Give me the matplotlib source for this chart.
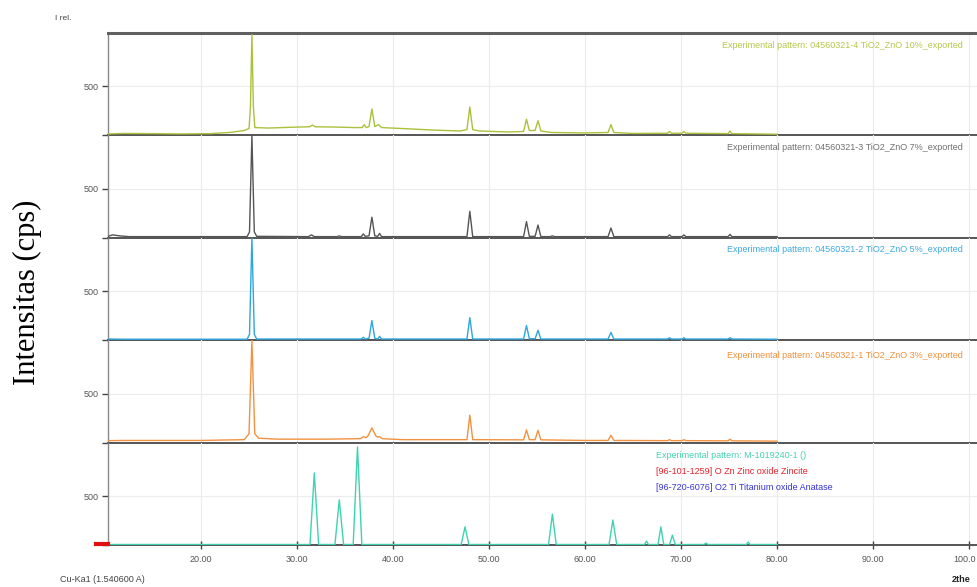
import matplotlib
matplotlib.use("Agg")
import matplotlib.pyplot as plt
import matplotlib.transforms as mtransforms

W, H = 977, 587

# ---------------- data (2theta, intensity vertices) ----------------
tt_10 = [10.3, 12, 15, 18, 21, 23, 24.5, 25.0, 25.15, 25.3, 25.45, 25.6, 27, 30, 31.3, 31.6, 31.9, 34, 36, 36.8, 37.0,
         37.2, 37.5, 37.8, 38.1, 38.5, 38.8, 41, 44, 47, 47.7, 48.0, 48.3, 49, 52, 53.6, 53.9, 54.2, 54.8, 55.1,
         55.4, 56.5, 60, 62.4, 62.7, 63.0, 65, 68.6, 68.8, 69.0, 70.1, 70.3, 70.5, 74.9, 75.1, 75.3, 80]
I_10 = [15, 20, 18, 15, 18, 30, 50, 70, 300, 1030, 300, 80, 75, 85, 88, 105, 88, 85, 80, 80, 110,
        80, 90, 270, 90, 110, 80, 70, 55, 45, 60, 290, 60, 45, 35, 40, 165, 50, 50, 150,
        45, 30, 25, 30, 110, 30, 20, 22, 40, 22, 22, 40, 22, 18, 45, 18, 12]

tt_7 = [10.3, 10.8, 11.5, 12.5, 24.8, 25.05, 25.3, 25.55, 25.8, 31.2, 31.5, 31.8, 34.2, 34.4, 34.6, 36.7, 36.9,
        37.1, 37.5, 37.8, 38.1, 38.4, 38.6, 38.8, 47.7, 48.0, 48.3, 53.6, 53.9, 54.2, 54.8, 55.1, 55.4, 56.4,
        56.6, 56.8, 62.4, 62.7, 63.0, 68.6, 68.8, 69.0, 70.1, 70.3, 70.5, 74.9, 75.1, 75.3, 80]
I_7 = [15, 30, 20, 12, 12, 60, 1045, 60, 15, 12, 30, 12, 12, 20, 12, 12, 40,
       15, 20, 210, 20, 15, 45, 12, 12, 270, 12, 12, 165, 15, 15, 130, 12, 12,
       20, 12, 12, 100, 12, 12, 30, 12, 12, 30, 12, 12, 35, 12, 12]

tt_5 = [10.3, 12, 24.8, 25.05, 25.3, 25.55, 25.8, 36.7, 36.9, 37.1, 37.5, 37.8, 38.1, 38.4, 38.6, 38.8, 47.7,
        48.0, 48.3, 53.6, 53.9, 54.2, 54.8, 55.1, 55.4, 62.4, 62.7, 63.0, 68.6, 68.8, 69.0, 70.1, 70.3, 70.5,
        74.9, 75.1, 75.3, 80]
I_5 = [12, 10, 10, 60, 1045, 60, 12, 12, 30, 12, 20, 200, 20, 12, 40, 12, 12,
       230, 12, 12, 150, 15, 15, 100, 12, 12, 80, 12, 12, 25, 12, 12, 25, 12,
       12, 25, 12, 10]

tt_3 = [10.3, 12, 20, 24.5, 25.0, 25.3, 25.6, 26.0, 28, 33, 36.6, 36.9, 37.2, 37.4, 37.8, 38.2, 38.4, 38.6, 38.9,
        41, 47.7, 48.0, 48.3, 53.6, 53.9, 54.2, 54.8, 55.1, 55.4, 60, 62.4, 62.7, 63.0, 68.6, 68.8, 69.0, 70.1,
        70.3, 70.5, 74.9, 75.1, 75.3, 80]
I_3 = [20, 22, 22, 30, 90, 1045, 90, 45, 35, 35, 40, 60, 50, 70, 150, 70, 55, 60, 40,
       30, 30, 280, 30, 28, 130, 30, 30, 125, 28, 22, 22, 75, 22, 20, 30, 20, 20,
       30, 20, 18, 35, 18, 15]

tt_ref = [10.3, 31.35, 31.8, 32.25, 33.95, 34.4, 34.85, 35.85, 36.3, 36.75, 47.1, 47.5, 47.9, 56.2, 56.6, 57.0,
          62.5, 62.9, 63.3, 66.2, 66.4, 66.6, 67.6, 67.9, 68.2, 68.8, 69.1, 69.4, 72.4, 72.6, 72.8, 76.8, 77.0,
          77.2, 80]
I_ref = [5, 5, 735, 5, 5, 460, 5, 5, 1000, 5, 5, 185, 5, 5, 315, 5, 5,
         255, 5, 5, 40, 5, 5, 185, 5, 5, 100, 5, 5, 20, 5, 5, 30,
         5, 5]

x_ticks = [20, 30, 40, 50, 60, 70, 80, 90, 100]
x_tick_labels = ["20.00", "30.00", "40.00", "50.00", "60.00", "70.00", "80.00", "90.00", "100.0"]

panel_labels = [
    ["Experimental pattern: 04560321-4 TiO2_ZnO 10%_exported"],
    ["Experimental pattern: 04560321-3 TiO2_ZnO 7%_exported"],
    ["Experimental pattern: 04560321-2 TiO2_ZnO 5%_exported"],
    ["Experimental pattern: 04560321-1 TiO2_ZnO 3%_exported"],
    ["Experimental pattern: M-1019240-1 ()",
     "[96-101-1259] O Zn Zinc oxide Zincite",
     "[96-720-6076] O2 Ti Titanium oxide Anatase"],
]

# ---------------- styling ----------------
series = [(tt_10, I_10), (tt_7, I_7), (tt_5, I_5), (tt_3, I_3), (tt_ref, I_ref)]
line_colors = ["#a9c23c", "#555555", "#2ea6de", "#f29240", "#3ed3b0"]
label_colors = [["#b4c84a"], ["#707070"], ["#3fa9e0"], ["#f0903c"],
                ["#45d2b0", "#e8202a", "#3434d8"]]

plt.rcParams['font.family'] = ['Liberation Sans', 'DejaVu Sans']

fig = plt.figure(figsize=(W / 100, H / 100), dpi=100)
fig.patch.set_facecolor("white")

top0 = 33.0
ph = 102.4
left_px = 108.0
xmin, xmax = 10.31, 100.83

axes = []
for i, ((xs, ys), col) in enumerate(zip(series, line_colors)):
    top = top0 + i * ph
    ax = fig.add_axes([left_px / W, 1 - (top + ph) / H, (W - left_px) / W, ph / H])
    ax.set_xlim(xmin, xmax)
    ax.set_ylim(0, 1045)
    for xv in x_ticks:
        ax.axvline(xv, color="#ececec", lw=0.8, zorder=0)
    ax.axhline(500, color="#ececec", lw=0.8, zorder=0)
    ax.plot(xs, ys, color=col, lw=1.0, zorder=3, clip_on=True)
    ax.set_yticks([0, 500])
    ax.set_yticklabels(["", "500"])
    ax.tick_params(axis="y", direction="out", length=4, width=1, color="#444444",
                   labelsize=6.5, labelcolor="#555555", pad=3)
    ax.spines["right"].set_visible(False)
    ax.spines["left"].set_color("#888888")
    ax.spines["left"].set_linewidth(1.0)
    ax.spines["bottom"].set_color("#555555")
    ax.spines["bottom"].set_linewidth(1.4)
    if i == 0:
        ax.spines["top"].set_color("#606060")
        ax.spines["top"].set_linewidth(2.2)
    else:
        ax.spines["top"].set_visible(False)
    if i < 4:
        ax.set_xticks([])
    else:
        ax.set_xticks(x_ticks)
        ax.set_xticklabels(x_tick_labels)
        ax.tick_params(axis="x", direction="inout", length=6, width=1, color="#444444",
                       labelsize=6.5, labelcolor="#555555", pad=4)
        last = ax.get_xticklabels()[-1]
        last.set_horizontalalignment("right")
        last.set_transform(last.get_transform() +
                           mtransforms.ScaledTranslation(7 / 100, 0, fig.dpi_scale_trans))
    ax.patch.set_alpha(0)
    axes.append(ax)

# red reference marker at the left of the bottom panel
axes[4].plot([xmin - 1.3, xmin], [8, 8], color="#e01010", lw=3, clip_on=False, zorder=4)

# panel labels
label_y = [45, 147, 250, 355]
for i in range(4):
    fig.text(963 / W, 1 - label_y[i] / H, panel_labels[i][0], color=label_colors[i][0],
             fontsize=6.5, ha="right", va="center")
for j, yy in enumerate([455, 472, 488]):
    fig.text(656 / W, 1 - yy / H, panel_labels[4][j], color=label_colors[4][j],
             fontsize=6.5, ha="left", va="center")

fig.text(55 / W, 1 - 18 / H, "I rel.", fontsize=6, color="#444444", ha="left", va="center")
fig.text(60 / W, 1 - 580 / H, "Cu-Ka1 (1.540600 A)", fontsize=6.5, color="#444444", ha="left", va="center")
fig.text(952 / W, 1 - 580 / H, "2the", fontsize=6.5, color="#222222", fontweight="bold",
         ha="left", va="center")

fig.text(27 / W, 1 - 292 / H, "Intensitas (cps)", rotation=90, fontsize=22,
         family=["Liberation Serif", "DejaVu Serif"], ha="center", va="center", color="#000000")

fig.savefig("out.png", dpi=100)
